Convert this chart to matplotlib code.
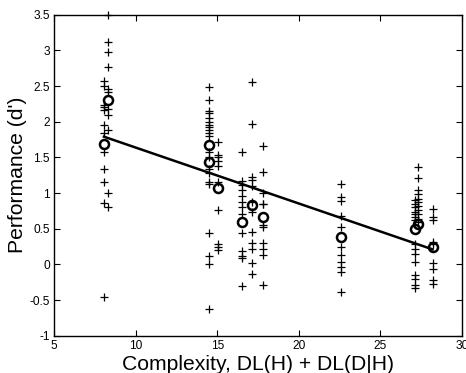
import matplotlib
matplotlib.use("Agg")
import matplotlib.pyplot as plt

plt.rcParams['font.family'] = ['Liberation Sans', 'DejaVu Sans']

# Individual subject scores (crosses) per condition
cond_x = [8.06, 8.31, 14.5, 15.05, 16.52, 17.13, 17.8, 22.6, 27.12, 27.3, 28.2]
cond_scores = [
    [2.57, 2.50, 2.23, 2.21, 2.17, 1.95, 1.84, 1.57, 1.33, 1.16, 0.86, -0.46],
    [3.50, 3.12, 2.98, 2.76, 2.46, 2.42, 2.18, 2.10, 1.89, 1.00, 0.81],
    [2.49, 2.30, 2.15, 2.12, 2.05, 2.00, 1.96, 1.93, 1.88, 1.84, 1.80, 1.57,
     1.50, 1.33, 1.28, 1.15, 1.12, 0.44, 0.12, 0.01, -0.63],
    [1.71, 1.53, 1.50, 1.45, 1.38, 1.15, 0.76, 0.29, 0.24, 0.20],
    [1.58, 1.17, 1.11, 1.04, 0.96, 0.88, 0.80, 0.70, 0.44, 0.19, 0.12, 0.09, -0.31],
    [2.55, 1.97, 1.23, 1.18, 1.10, 0.88, 0.74, 0.46, 0.30, 0.22, 0.02, -0.13],
    [1.66, 1.30, 1.00, 0.85, 0.84, 0.55, 0.53, 0.30, 0.21, 0.13, -0.29],
    [1.13, 0.94, 0.89, 0.68, 0.52, 0.24, 0.13, 0.03, -0.03, -0.10, -0.39],
    [0.90, 0.85, 0.80, 0.74, 0.70, 0.66, 0.62, 0.29, 0.21, 0.14, 0.04,
     -0.15, -0.21, -0.29, -0.33],
    [1.36, 1.21, 1.04, 0.99, 0.92, 0.88, 0.82, 0.76, 0.70, 0.63, 0.60],
    [0.77, 0.66, 0.62, 0.32, 0.28, 0.02, -0.06, -0.22, -0.27],
]

# Condition means (circles)
mean_x = [8.06, 8.31, 14.5, 14.5, 15.05, 16.52, 17.13, 17.8, 22.6, 27.12, 27.3, 28.2]
mean_y = [1.69, 2.30, 1.67, 1.44, 1.07, 0.59, 0.83, 0.67, 0.39, 0.49, 0.56, 0.24]

# Regression line endpoints
fit_x = [8.06, 28.2]
fit_y = [1.79, 0.21]

xticks = [5, 10, 15, 20, 25, 30]
yticks = [-1, -0.5, 0, 0.5, 1, 1.5, 2, 2.5, 3, 3.5]
ytick_labels = ['-1', '-0.5', '0', '0.5', '1', '1.5', '2', '2.5', '3', '3.5']

fig = plt.figure(figsize=(4.66, 3.73), dpi=100)
ax = fig.add_axes([54/466, 1-335.7/373, (462-54)/466, (335.7-14.7)/373])

for x, ys in zip(cond_x, cond_scores):
    ax.plot([x]*len(ys), ys, linestyle='none', marker='+', color='black',
            markersize=5.5, markeredgewidth=0.9, clip_on=False)

ax.plot(fit_x, fit_y, color='black', linewidth=1.8)
ax.plot(mean_x, mean_y, linestyle='none', marker='o', markerfacecolor='none',
        markeredgecolor='black', markersize=6.5, markeredgewidth=1.8)

ax.set_xlim(5, 30)
ax.set_ylim(-1, 3.5)
ax.set_xticks(xticks)
ax.set_xticklabels([str(t) for t in xticks])
ax.set_yticks(yticks)
ax.set_yticklabels(ytick_labels)
ax.tick_params(direction='in', top=True, right=True, length=4, width=0.8,
               labelsize=8.6, pad=3)
for s in ax.spines.values():
    s.set_linewidth(1.0)

ax.set_xlabel('Complexity, DL(H) + DL(D|H)', fontsize=15.2, labelpad=2)
ax.set_ylabel("Performance (d')", fontsize=15.2, labelpad=1.5)

fig.savefig('out.png', dpi=100)
